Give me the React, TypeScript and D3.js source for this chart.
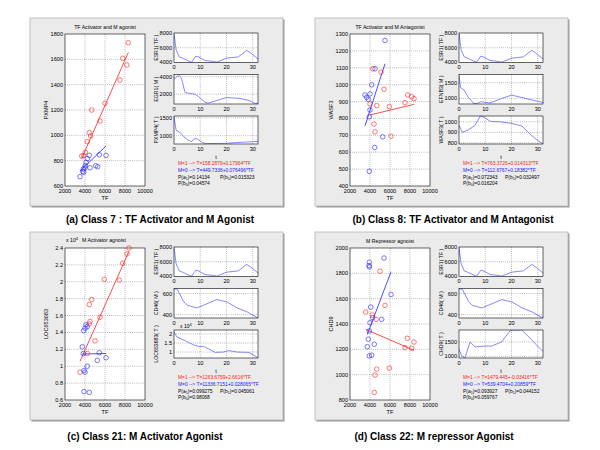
import React from "react";
import * as d3 from "d3";

// ---------- scatter data ----------
const aRedTF = [8330, 7770, 8170, 7500, 6000, 4670, 5500, 4430, 4570, 4230, 4030, 3670, 3870];
const aRedV = [1731, 1608, 1555, 1437, 1253, 1200, 1113, 1021, 995, 950, 866, 837, 840];
const aBlueTF = [6100, 5430, 4430, 4230, 4100, 5070, 5270, 4500, 4000, 3830, 3870, 3770, 3500, 4030];
const aBlueV = [842, 847, 842, 816, 787, 760, 752, 744, 744, 734, 709, 714, 673, 760];

const bRedTF = [4270, 5100, 5400, 4000, 4670, 5930, 7770, 8170, 8400, 7500, 4400, 4500, 6100];
const bRedV = [1094, 1074, 973, 886, 876, 870, 939, 929, 917, 894, 767, 721, 695];
const bBlueTF = [5500, 4500, 4170, 3500, 3670, 4000, 3830, 4000, 3930, 5270, 4470, 3930];
const bBlueV = [1262, 1094, 999, 939, 925, 945, 913, 850, 810, 691, 628, 487];

const cRedTF = [8400, 8200, 7770, 7430, 5930, 4670, 4430, 4500, 4430, 5500, 5000, 4230, 3500];
const cRedV = [2.40, 2.33, 2.22, 2.02, 2.03, 1.79, 1.73, 1.53, 1.50, 1.58, 1.30, 1.15, 0.93];
const cBlueTF = [3730, 4000, 4230, 4100, 3870, 3830, 5430, 6100, 5230, 4230, 3900, 4000, 3900, 4430];
const cBlueV = [1.23, 1.45, 1.47, 1.49, 1.42, 1.15, 1.16, 1.10, 1.07, 1.00, 0.95, 0.93, 0.70, 0.69];

const dRedTF = [5000, 5500, 3570, 4230, 4600, 7730, 8400, 7500, 8170, 4670, 5930, 4500, 4430];
const dRedV = [1817, 1547, 1494, 1471, 1437, 1287, 1258, 1213, 1209, 1044, 1052, 997, 860];
const dBlueTF = [5400, 3930, 3900, 3950, 6100, 4070, 4270, 5170, 4000, 3930, 3830, 4430, 3730, 3930, 4170];
const dBlueV = [1921, 1888, 1861, 1851, 1633, 1534, 1450, 1437, 1410, 1345, 1280, 1240, 1221, 1148, 1154];

// regression coefficients [intercept, slope]
const aRedCoef = [158.2879, 0.17964];
const aBlueCoef = [449.7336, 0.076496];
const bRedCoef = [763.3726, 0.014313];
const bBlueCoef = [112.6767, 0.18382];
const cRedCoef = [1263.6759, 2.6616];
const cBlueCoef = [11336.7151, 0.028065];
const dRedCoef = [1479.445, -0.03416];
const dBlueCoef = [539.4704, 0.20859];

// ---------- time series data ----------
const esr1T = [0, 0.8, 2.0, 3.6, 6.1, 6.7, 8.3, 9.3, 11.8, 15, 16.3, 20, 24.5, 27.7, 29.2, 32];
const esr1V = [8000, 5730, 4730, 4500, 4050, 4000, 4820, 4730, 4230, 4090, 4000, 4550, 4730, 5640, 5270, 4450];
const egr1T = [0, 1, 2, 2.9, 4.2, 6.1, 8, 9.3, 11.8, 13.1, 20, 25.1, 28.9, 30.8, 32];
const egr1V = [3700, 4000, 4150, 3770, 2190, 2080, 2000, 1740, 1060, 980, 1620, 1510, 1250, 940, 940];
const pxmpT = [0, 0.8, 2.3, 3.6, 5.5, 6.7, 8, 9.3, 11, 12.5, 20, 26, 32];
const pxmpV = [1530, 1150, 1090, 980, 870, 840, 930, 890, 800, 780, 790, 820, 840];
const efnbT = [0, 0.6, 1.9, 3.6, 5.5, 6.7, 8.6, 11.8, 15.6, 20, 23.9, 27.7, 30.9, 32];
const efnbV = [1730, 1340, 1270, 1030, 845, 835, 895, 855, 980, 1105, 1030, 950, 895, 865];
const wasfT = [0, 1.4, 3.6, 6.1, 8.1, 9.4, 11.9, 15.7, 20.1, 24, 27.2, 29.7, 32];
const wasfV = [965, 900, 925, 965, 1055, 1045, 1005, 1000, 985, 960, 880, 830, 790];
const cd46T = [0, 1.3, 3.6, 4.9, 8.7, 11.3, 16.3, 20.2, 24.1, 27.9, 31.5, 32];
const cd46V = [645, 640, 527, 490, 463, 490, 543, 520, 463, 425, 374, 370];
const locT = [0, 1, 2.3, 4.9, 7.4, 9.3, 11.3, 13.1, 15.7, 18.9, 20.8, 24.1, 28.6, 32];
const locV = [2.12, 1.85, 1.76, 1.58, 1.40, 1.31, 1.31, 1.18, 0.98, 1.0, 1.08, 1.0, 0.98, 0.68];
const chdT = [0, 1, 2.3, 4.2, 6.1, 9.3, 12.4, 16.2, 19.4, 20.7, 23.9, 27.1, 29.9, 32];
const chdV = [1250, 1020, 950, 1500, 1330, 1355, 1360, 1500, 1880, 1910, 1910, 1630, 1360, 1170];

// ---------- tick labels ----------
const tfTicks = [2000, 4000, 6000, 8000, 10000];
const tTicks = [0, 10, 20, 30];
const aYTicks = [600, 800, 1000, 1200, 1400, 1600, 1800];
const bYTicks = [400, 500, 600, 700, 800, 900, 1000, 1100, 1200, 1300];
const cYTicks = [0.6, 0.8, 1, 1.2, 1.4, 1.6, 1.8, 2, 2.2, 2.4];
const dYTicks = [800, 1000, 1200, 1400, 1600, 1800, 2000];

const captions = [
  "(a) Class 7 : TF Activator and M Agonist",
  "(b) Class 8: TF Activator and M Antagonist",
  "(c) Class 21: M Activator Agonist",
  "(d) Class 22: M repressor Agonist",
];

const FONT = "Liberation Sans, Arial, sans-serif";
const RED = "#ff2020";
const BLUE = "#2020ff";
const TS = "#6a6aff";
const fmtNum = (d: number) => String(+d.toFixed(2));

type Sub = { t: number[]; v: number[]; domain: number[]; ticks: number[]; label: string; exp?: boolean };
type PanelCfg = {
  ox: number; oy: number; title: string; exp?: boolean; ylabel: string;
  yDomain: number[]; yTicks: number[]; scale: number;
  redTF: number[]; redV: number[]; blueTF: number[]; blueV: number[];
  redCoef: number[]; blueCoef: number[];
  subs: Sub[]; lines: string[]; p: string[];
};

const esr1Sub: Sub = { t: esr1T, v: esr1V, domain: [3950, 8050], ticks: [4000, 6000, 8000], label: "ESR1( TF )" };

const panels: PanelCfg[] = [
  {
    ox: 30, oy: 18, title: "TF Activator and M agonist", ylabel: "PXMP4",
    yDomain: [600, 1800], yTicks: aYTicks, scale: 1,
    redTF: aRedTF, redV: aRedV, blueTF: aBlueTF, blueV: aBlueV, redCoef: aRedCoef, blueCoef: aBlueCoef,
    subs: [esr1Sub,
      { t: egr1T, v: egr1V, domain: [870, 4260], ticks: [2000, 4000], label: "EGR1( M )" },
      { t: pxmpT, v: pxmpV, domain: [770, 1547], ticks: [1000, 1500], label: "PXMP4( T )" }],
    lines: ["M=1 --> T=158.2879+0.17964*TF", "M=0 --> T=449.7336+0.076496*TF"],
    p: ["0.14134", "0.015323", "0.04574"],
  },
  {
    ox: 315, oy: 18, title: "TF Activator and M Antagonist", ylabel: "WASF3",
    yDomain: [400, 1300], yTicks: bYTicks, scale: 1,
    redTF: bRedTF, redV: bRedV, blueTF: bBlueTF, blueV: bBlueV, redCoef: bRedCoef, blueCoef: bBlueCoef,
    subs: [esr1Sub,
      { t: efnbT, v: efnbV, domain: [823, 1760], ticks: [1000, 1500], label: "EFNB3( M )" },
      { t: wasfT, v: wasfV, domain: [790, 1055], ticks: [800, 900, 1000], label: "WASF3( T )" }],
    lines: ["M=1 --> T=763.3726+0.014313*TF", "M=0 --> T=112.6767+0.18382*TF"],
    p: ["0.072343", "0.032497", "0.016204"],
  },
  {
    ox: 30, oy: 232, title: "M Activator agnoist", exp: true, ylabel: "LOC653683",
    yDomain: [0.6, 2.4], yTicks: cYTicks, scale: 1e4,
    redTF: cRedTF, redV: cRedV, blueTF: cBlueTF, blueV: cBlueV, redCoef: cRedCoef, blueCoef: cBlueCoef,
    subs: [esr1Sub,
      { t: cd46T, v: cd46V, domain: [368, 648], ticks: [400, 600], label: "CD46( M )" },
      { t: locT, v: locV, domain: [0.67, 2.22], ticks: [1, 1.5, 2], label: "LOC653683( T )", exp: true }],
    lines: ["M=1 --> T=1263.6759+2.6616*TF", "M=0 --> T=11336.7151+0.028065*TF"],
    p: ["0.099275", "0.045061", "0.98068"],
  },
  {
    ox: 315, oy: 232, title: "M Repressor agnoist", ylabel: "CHD9",
    yDomain: [800, 2000], yTicks: dYTicks, scale: 1,
    redTF: dRedTF, redV: dRedV, blueTF: dBlueTF, blueV: dBlueV, redCoef: dRedCoef, blueCoef: dBlueCoef,
    subs: [esr1Sub,
      { t: cd46T, v: cd46V, domain: [368, 648], ticks: [400, 600], label: "CD46( M )" },
      { t: chdT, v: chdV, domain: [947, 1913], ticks: [1000, 1500], label: "CHD9( T )" }],
    lines: ["M=1 --> T=1479.445+-0.03416*TF", "M=0 --> T=539.4704+0.20859*TF"],
    p: ["0.093927", "0.044152", "0.059767"],
  },
];

const FW = 253, FH = 188;
const subBoxes = [[15, 44.5], [56.5, 86], [98, 126]];

function Grid({ x0, x1, y0, y1, xs, ys }: { x0: number; x1: number; y0: number; y1: number; xs: number[]; ys: number[] }) {
  return (
    <g stroke="#444" strokeWidth={0.45} strokeDasharray="0.8 1.3">
      {xs.filter((x) => x > x0 + 0.5 && x < x1 - 0.5).map((x, i) => <line key={"x" + i} x1={x} x2={x} y1={y0} y2={y1} />)}
      {ys.filter((y) => y > y0 + 0.5 && y < y1 - 0.5).map((y, i) => <line key={"y" + i} x1={x0} x2={x1} y1={y} y2={y} />)}
    </g>
  );
}

function Panel({ c }: { c: PanelCfg }) {
  const { ox, oy } = c;
  const sx = d3.scaleLinear().domain([2000, 10000]).range([ox + 35, ox + 115]);
  const sy = d3.scaleLinear().domain(c.yDomain).range([oy + 168, oy + 16]);
  const x0 = ox + 35, x1 = ox + 115, y0 = oy + 16, y1 = oy + 168;
  const lineFor = (tf: number[], coef: number[]) => {
    const lo = d3.min(tf)!, hi = d3.max(tf)!;
    return [lo, hi].map((x) => [sx(x), sy((coef[0] + coef[1] * x) / c.scale)]);
  };
  const rl = lineFor(c.redTF, c.redCoef);
  const bl = lineFor(c.blueTF, c.blueCoef);
  const tx = ox + 148;
  return (
    <g fontFamily={FONT}>
      <rect x={ox + 1.5} y={oy + 1.5} width={FW} height={FH} fill="#9a9a9a" />
      <rect x={ox} y={oy} width={FW} height={FH} fill="#ebebeb" stroke="#b4b4b4" strokeWidth={0.8} />
      {/* scatter */}
      <rect x={x0} y={y0} width={80} height={152} fill="#fff" />
      <Grid x0={x0} x1={x1} y0={y0} y1={y1} xs={tfTicks.map(sx)} ys={c.yTicks.map(sy)} />
      <rect x={x0} y={y0} width={80} height={152} fill="none" stroke="#000" strokeWidth={0.6} />
      {tfTicks.map((t) => (
        <text key={t} x={sx(t)} y={oy + 175} fontSize={5.6} textAnchor="middle">{t}</text>
      ))}
      {c.yTicks.map((t) => (
        <text key={t} x={x0 - 2} y={sy(t) + 2} fontSize={5.6} textAnchor="end">{fmtNum(t)}</text>
      ))}
      <text x={ox + 75} y={oy + 181.5} fontSize={5.6} textAnchor="middle">TF</text>
      <text transform={`translate(${ox + 18},${oy + 92}) rotate(-90)`} fontSize={5.6} textAnchor="middle">{c.ylabel}</text>
      {c.exp ? (
        <>
          <text x={x0 + 1} y={oy + 9.5} fontSize={5.2}>x 10<tspan dy={-2} fontSize={4}>4</tspan></text>
          <text x={ox + 74} y={oy + 9.5} fontSize={5.2} textAnchor="middle">{c.title}</text>
        </>
      ) : (
        <text x={ox + 75} y={oy + 11} fontSize={5.2} textAnchor="middle">{c.title}</text>
      )}
      <line x1={rl[0][0]} y1={rl[0][1]} x2={rl[1][0]} y2={rl[1][1]} stroke={RED} strokeWidth={0.8} />
      <line x1={bl[0][0]} y1={bl[0][1]} x2={bl[1][0]} y2={bl[1][1]} stroke={BLUE} strokeWidth={0.8} />
      {c.redTF.map((t, i) => (
        <circle key={"r" + i} cx={sx(t)} cy={sy(c.redV[i])} r={2.3} fill="none" stroke={RED} strokeWidth={0.6} />
      ))}
      {c.blueTF.map((t, i) => (
        <circle key={"b" + i} cx={sx(t)} cy={sy(c.blueV[i])} r={2.3} fill="none" stroke={BLUE} strokeWidth={0.6} />
      ))}
      {/* subplots */}
      {c.subs.map((s, k) => {
        const [by0, by1] = subBoxes[k];
        const X0 = ox + 144, X1 = ox + 228, Y0 = oy + by0, Y1 = oy + by1;
        const tsx = d3.scaleLinear().domain([0, 32]).range([X0, X1]);
        const tsy = d3.scaleLinear().domain(s.domain).range([Y1, Y0]);
        const path = d3.line<number>().x((_, i) => tsx(s.t[i])).y((v) => tsy(v))(s.v) || "";
        return (
          <g key={k}>
            <rect x={X0} y={Y0} width={X1 - X0} height={Y1 - Y0} fill="#fff" />
            <Grid x0={X0} x1={X1} y0={Y0} y1={Y1} xs={tTicks.map(tsx)} ys={s.ticks.map(tsy)} />
            <clipPath id={`cp${ox}-${oy}-${k}`}><rect x={X0} y={Y0} width={X1 - X0} height={Y1 - Y0} /></clipPath>
            <path d={path} fill="none" stroke={TS} strokeWidth={0.8} clipPath={`url(#cp${ox}-${oy}-${k})`} />
            <rect x={X0} y={Y0} width={X1 - X0} height={Y1 - Y0} fill="none" stroke="#000" strokeWidth={0.6} />
            {tTicks.map((t) => (
              <text key={t} x={tsx(t)} y={Y1 + 6.5} fontSize={5.6} textAnchor="middle">{t}</text>
            ))}
            {s.ticks.map((t) => (
              <text key={t} x={X0 - 2} y={tsy(t) + 2} fontSize={5.6} textAnchor="end">{fmtNum(t)}</text>
            ))}
            <text transform={`translate(${ox + 128},${(Y0 + Y1) / 2}) rotate(-90)`} fontSize={5.2} textAnchor="middle">{s.label}</text>
            {s.exp && (
              <text x={X0 + 6} y={Y0 - 2} fontSize={5}>x 10<tspan dy={-2} fontSize={3.8}>4</tspan></text>
            )}
          </g>
        );
      })}
      <text x={ox + 186} y={oy + 141} fontSize={5.6} textAnchor="middle">t</text>
      <text x={tx} y={oy + 147} fontSize={4.9} fill={RED}>{c.lines[0]}</text>
      <text x={tx} y={oy + 154} fontSize={4.9} fill={BLUE}>{c.lines[1]}</text>
      <text x={tx} y={oy + 161} fontSize={4.9}>P(a<tspan dy={1.2} fontSize={3.6}>1</tspan><tspan dy={-1.2}>)={c.p[0]}</tspan></text>
      <text x={ox + 190} y={oy + 161} fontSize={4.9}>P(b<tspan dy={1.2} fontSize={3.6}>1</tspan><tspan dy={-1.2}>)={c.p[1]}</tspan></text>
      <text x={tx} y={oy + 167} fontSize={4.9}>P(b<tspan dy={1.2} fontSize={3.6}>0</tspan><tspan dy={-1.2}>)={c.p[2]}</tspan></text>
    </g>
  );
}

export default function App() {
  const capPos = [[160, 223], [453, 223], [145, 440], [434, 440]];
  return (
    <svg width={600} height={450} viewBox="0 0 600 450" style={{ display: "block", position: "absolute", left: 0, top: 0, background: "#fff" }}>
      <rect width={600} height={450} fill="#fff" />
      {panels.map((p, i) => <Panel key={i} c={p} />)}
      {captions.map((c, i) => (
        <text key={i} x={capPos[i][0]} y={capPos[i][1]} fontFamily={FONT} fontWeight="bold" fontSize={10} textAnchor="middle">{c}</text>
      ))}
    </svg>
  );
}
